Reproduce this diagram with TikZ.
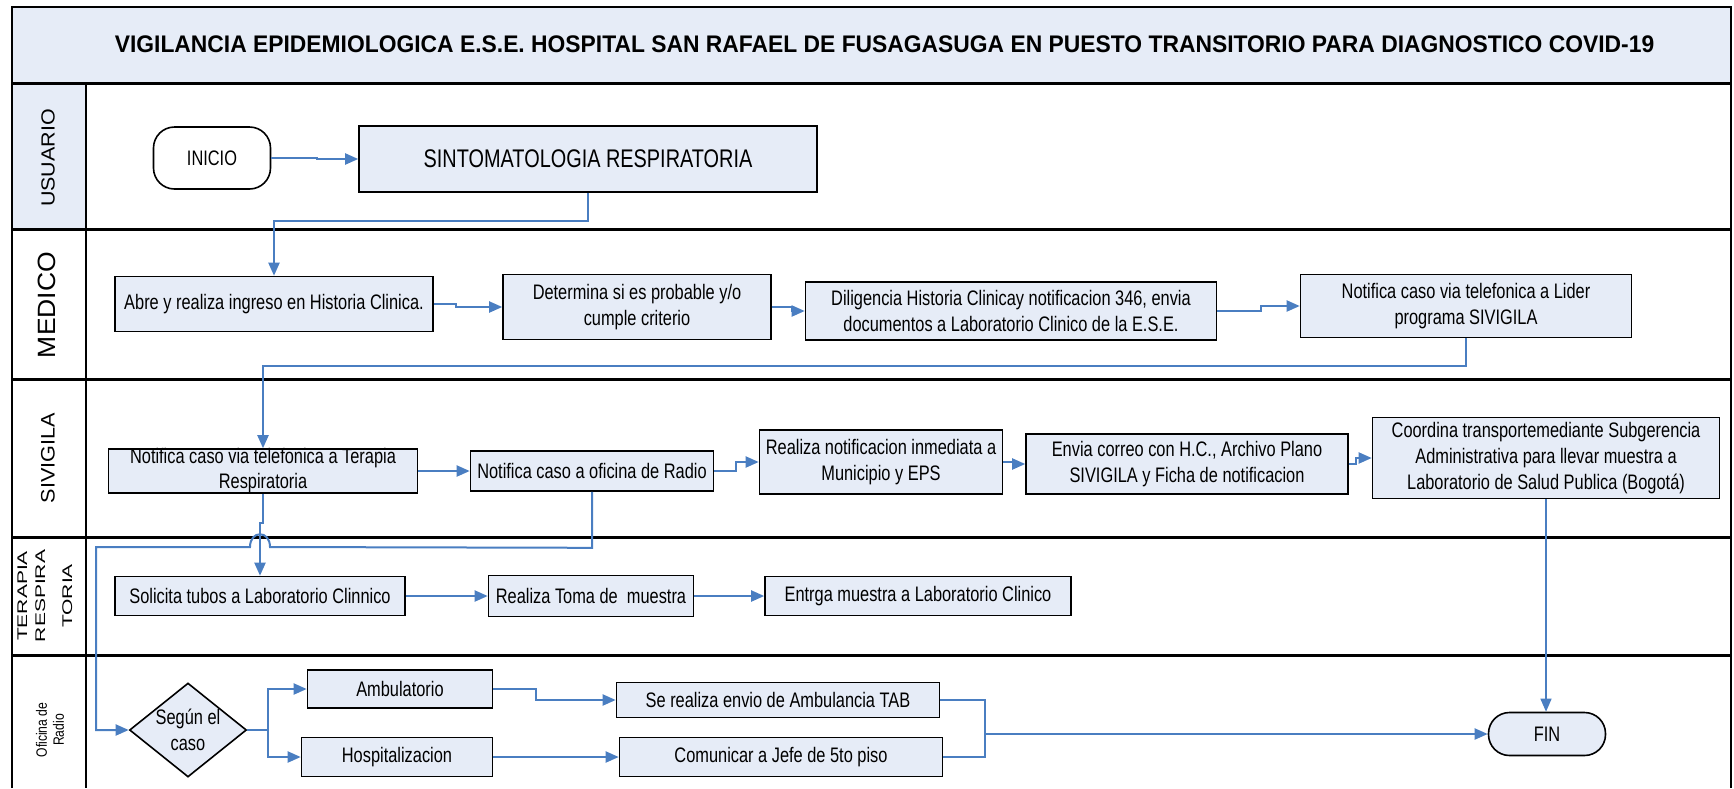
\documentclass[tikz,border=0pt]{standalone}
\usepackage{graphicx}
\usepackage{fontspec}
\setmainfont{Liberation Sans}
\newfontfamily\bodyf{Liberation Sans}[FakeStretch=0.78]
\newfontfamily\titlef{Liberation Sans}[FakeStretch=0.952]
\usetikzlibrary{arrows.meta,shapes.geometric}
\definecolor{boxblue}{RGB}{230,236,247}
\definecolor{linkblue}{RGB}{74,126,193}
\begin{document}
\begin{tikzpicture}[x=1pt,y=-1pt,
  box/.style={draw=black, line width=1.6pt, fill=boxblue, inner sep=0pt, align=center, font=\bodyf\fontsize{21}{26}\selectfont},
  term/.style={box, rounded corners=21pt},
  txt/.style={inner sep=0pt, align=center, font=\bodyf\fontsize{21}{26}\selectfont},
  link/.style={draw=linkblue, line width=2pt, -{Triangle[length=13pt,width=11pt]}},
  plain/.style={draw=linkblue, line width=2pt},
  lane/.style={line width=3pt, draw=black},
  lbl/.style={rotate=90, align=center, inner sep=0pt}]

\useasboundingbox (0,0) rectangle (1734,788);
% frame and lanes
\fill[boxblue] (12,7) rectangle (1731,83);
\fill[boxblue] (12,83) rectangle (86,229);
\draw[line width=2pt] (12,788) -- (12,7) -- (1731,7) -- (1731,788);
\foreach \y in {83,229,379,537,655} \draw[lane] (12,\y) -- (1731,\y);
\draw[line width=1.5pt] (86,83) -- (86,788);

% title
\node[anchor=base, inner sep=0pt, font=\titlef\bfseries\fontsize{24}{28}\selectfont] (title) at (884.5,52)
  {VIGILANCIA EPIDEMIOLOGICA E.S.E. HOSPITAL SAN RAFAEL DE FUSAGASUGA EN PUESTO TRANSITORIO PARA DIAGNOSTICO COVID-19};

% lane labels
\node[lbl, font=\fontsize{19}{22}\selectfont] (lu) at (48,158) {\scalebox{1.13}[1]{USUARIO}};
\node[lbl, font=\fontsize{25}{28}\selectfont] (lm) at (47,305) {\scalebox{1.06}[1]{MEDICO}};
\node[lbl, font=\fontsize{19.5}{22}\selectfont] (ls) at (48,458) {\scalebox{1.11}[1]{SIVIGILA}};
\node[lbl, font=\fontsize{14}{18}\selectfont] (lt) at (45,596)
  {\scalebox{1.5}[1]{TERAPIA}\\\scalebox{1.5}[1]{RESPIRA}\\[9pt]\scalebox{1.5}[1]{TORIA}};
\node[lbl, font=\fontsize{15}{17}\selectfont] (lo) at (50,730)
  {\scalebox{0.81}[1]{Oficina de}\\\scalebox{0.81}[1]{Radio}};

% USUARIO
\node[term, fill=white, minimum width=117pt, minimum height=62pt] (ini) at (212,158) {INICIO};
\node[box, minimum width=458pt, minimum height=66pt, font=\bodyf\fontsize{25.5}{30}\selectfont] (sint) at (588,159) {SINTOMATOLOGIA RESPIRATORIA};

% MEDICO
\node[box, minimum width=318pt, minimum height=55pt] (abre) at (274,304) {Abre y realiza ingreso en Historia Clinica.};
\node[box, minimum width=268pt, minimum height=65pt] (det) at (637,307) {Determina si es probable y/o\\cumple criterio};
\node[box, minimum width=411pt, minimum height=58pt] (dil) at (1011,311) {Diligencia Historia Clinicay notificacion 346, envia\\documentos a Laboratorio Clinico de la E.S.E.};
\node[box, minimum width=331pt, minimum height=63pt] (lid) at (1466,306) {Notifica caso via telefonica a Lider\\programa SIVIGILA};

% SIVIGILA
\node[box, minimum width=309pt, minimum height=44pt] (ntr) at (263,471) {};
\node[txt, font=\bodyf\fontsize{21}{25}\selectfont] (ntrt) at (ntr.center) {Notifica caso via telefonica a Terapia\\Respiratoria};
\node[box, minimum width=243pt, minimum height=40pt] (nra) at (592,471) {Notifica caso a oficina de Radio};
\node[box, minimum width=243pt, minimum height=64pt] (rni) at (881,462) {Realiza notificacion inmediata a\\Municipio y EPS};
\node[box, minimum width=322pt, minimum height=60pt] (env) at (1187,464) {Envia correo con H.C., Archivo Plano\\SIVIGILA y Ficha de notificacion};
\node[box, minimum width=347pt, minimum height=81pt] (coo) at (1546,458) {Coordina transportemediante Subgerencia\\Administrativa para llevar muestra a\\Laboratorio de Salud Publica (Bogotá)};

% TERAPIA
\node[box, minimum width=290pt, minimum height=39pt] (sol) at (260,596) {Solicita tubos a Laboratorio Clinnico};
\node[box, minimum width=205pt, minimum height=41pt] (tom) at (591,596) {Realiza Toma de\ \ muestra};
\node[box, minimum width=306pt, minimum height=39pt] (ent) at (918,596) {Entrga muestra a Laboratorio Clinico};

% OFICINA DE RADIO
\node[box, diamond, minimum width=117pt, minimum height=94pt] (dia) at (188,730) {};
\node[txt] (diat) at (dia.center) {Según el\\caso};
\node[box, minimum width=185pt, minimum height=38pt] (amb) at (400,689) {Ambulatorio};
\node[box, minimum width=191pt, minimum height=39pt] (hos) at (397,757) {Hospitalizacion};
\node[box, minimum width=323pt, minimum height=35pt] (ser) at (778,700) {Se realiza envio de Ambulancia TAB};
\node[box, minimum width=323pt, minimum height=39pt] (com) at (781,757) {Comunicar a Jefe de 5to piso};
\node[term, minimum width=117pt, minimum height=43pt] (fin) at (1547,734) {FIN};

% connectors
\draw[link] (ini.east) -- ++(46,0) |- (sint.west);
\draw[link] (sint.south) -- ++(0,28) -| (abre.north);
\draw[link] (abre.east) -- ++(22,0) |- (det.west);
\draw[link] (det.east) -- ++(20,0) |- (dil.west);
\draw[link] (dil.east) -- ++(44,0) |- (lid.west);
\draw[link] (lid.south) -- ++(0,28) -| (ntr.north);
\draw[link] (ntr.east) -- (nra.west);
\draw[link] (nra.east) -- ++(22,0) |- (rni.west);
\draw[link] (rni.east) -- ++(10,0) |- (env.west);
\draw[link] (env.east) -- ++(7,0) |- (coo.west);
\draw[link, line width=1.2pt] (coo.south) -- (coo.south |- fin.north);
\draw[link] (ntr.south) -- ++(0,29) -| (sol.north);
\draw[link] (nra.south) -- ++(0,56) -- (270,547) .. controls (270,530) and (250,530) .. (250,547) -- (96,547) |- (dia.west);
\draw[link] (sol.east) -- ++(43,0) |- (tom.west);
\draw[link] (tom.east) -- ++(22,0) |- (ent.west);
\coordinate (split) at (268,730);
\draw[plain] (dia.east) -- (split);
\draw[link] (split) |- (amb.west);
\draw[link] (split) |- (hos.west);
\draw[link] (amb.east) -- ++(43,0) |- (ser.west);
\draw[link] (hos.east) -- ++(42,0) |- (com.west);
\coordinate (mj) at (985,734);
\draw[plain] (ser.east) -| (mj);
\draw[plain] (com.east) -| (mj);
\draw[link] (mj) -- (fin.west);
\end{tikzpicture}
\end{document}
